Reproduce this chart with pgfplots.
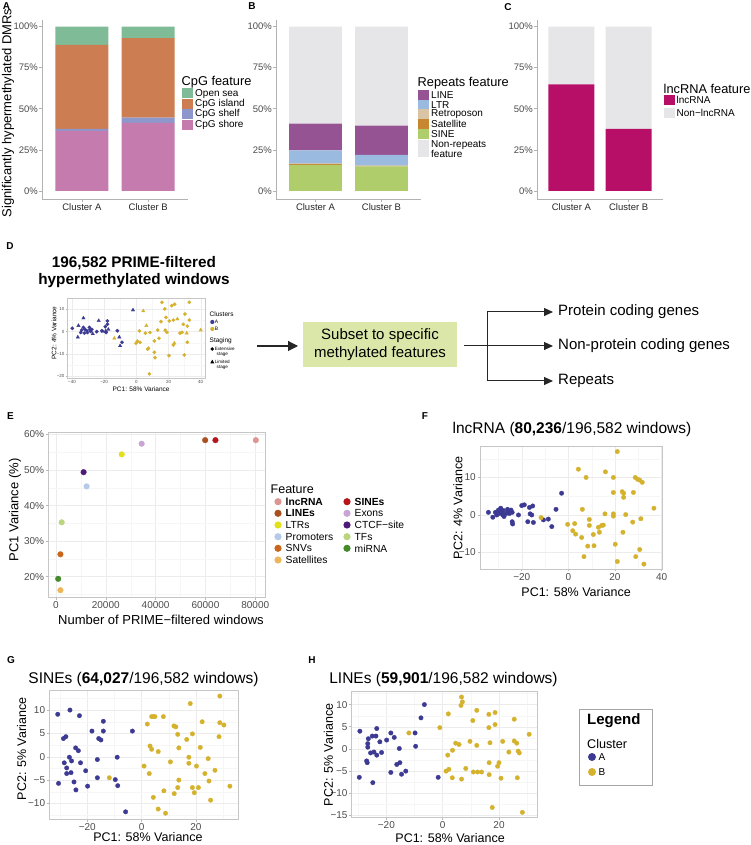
\documentclass[border=0pt]{standalone}
\usepackage{pgfplots}
\pgfplotsset{compat=1.18}
\usepackage{fontspec}
\setmainfont{Liberation Sans}
\usetikzlibrary{arrows.meta}
\newcommand{\fs}[1]{\fontsize{#1}{#1}\selectfont}
\definecolor{cOpen}{HTML}{7FBB96}
\definecolor{cIsland}{HTML}{CC7D52}
\definecolor{cShelf}{HTML}{8E97CB}
\definecolor{cShore}{HTML}{C67BAE}
\definecolor{cLINE}{HTML}{965394}
\definecolor{cLTR}{HTML}{9BBADF}
\definecolor{cRetro}{HTML}{D9C5A5}
\definecolor{cSat}{HTML}{C78630}
\definecolor{cSINE}{HTML}{B0CD6B}
\definecolor{cNon}{HTML}{E6E5E7}
\definecolor{cLnc}{HTML}{B70E68}
\definecolor{cA}{HTML}{3C3A92}
\definecolor{cB}{HTML}{D5B22E}
\definecolor{cBox}{HTML}{DBE7A8}
\definecolor{eLnc}{HTML}{DC958F}
\definecolor{eLINE}{HTML}{A8511E}
\definecolor{eLTR}{HTML}{E2E018}
\definecolor{eProm}{HTML}{B5CAE8}
\definecolor{eSNV}{HTML}{C7661C}
\definecolor{eSat}{HTML}{EBB75A}
\definecolor{eSINE}{HTML}{B4161B}
\definecolor{eExon}{HTML}{C8A5D4}
\definecolor{eCTCF}{HTML}{4E1A77}
\definecolor{eTF}{HTML}{BAD57C}
\definecolor{eMiR}{HTML}{458A2B}
\pgfplotsset{
  barax/.style={scale only axis, anchor=south west, height=179pt,
    axis x line=bottom, axis y line=left,
    axis line style={-, draw=gray!60, line width=0.6pt},
    ybar stacked, bar width=0.8, bar shift=0pt,
    xmin=0.4, xmax=2.6, ymin=-4.9, ymax=104,
    xtick={1,2}, xticklabels={Cluster A,Cluster B},
    ytick={0,25,50,75,100}, yticklabels={0\%,25\%,50\%,75\%,100\%},
    tick align=outside, major tick length=3pt,
    tick style={draw=gray!60, line width=0.6pt},
    yticklabel style={font=\fs{9.5}, text=black!70, inner sep=1pt},
    xticklabel style={font=\fs{9.5}, text=black!85, inner sep=1.5pt},
  },
  pcaax/.style={scale only axis, anchor=south west,
    axis line style={draw=gray!45, line width=0.6pt},
    grid=both, major grid style={draw=gray!15, line width=0.45pt},
    minor grid style={draw=gray!7, line width=0.3pt},
    tick align=outside, major tick length=2.5pt, minor tick length=0pt,
    tick style={draw=gray!55, line width=0.5pt}, tick pos=left,
    tick label style={font=\fs{10}, text=black!70, inner sep=1.5pt},
    label style={font=\fs{12.5}},
  },
  pt/.style={only marks, mark=*, mark size=#1, mark options={solid, line width=0.3pt}},
  ptA/.style={pt=2.25pt, color=cA},
  ptB/.style={pt=2.25pt, color=cB},
  ept/.style={pt=2.85pt, color=#1},
}
\begin{document}
\begin{tikzpicture}[x=1pt,y=1pt]
\useasboundingbox (0,0) rectangle (750,845);

% ---------------- Panel A ----------------
\begin{axis}[barax, at={(42pt,646pt)}, width=146pt,
  ylabel={Significantly hypermethylated DMRs},
  ylabel style={font=\fs{13}, at={(axis description cs:-0.233,0.48)}, anchor=center}]
\addplot[fill=cShore, draw=none] coordinates {(1,36.5) (2,41.4)};
\addplot[fill=cShelf, draw=none] coordinates {(1,1.3) (2,3.2)};
\addplot[fill=cIsland, draw=none] coordinates {(1,51.0) (2,48.3)};
\addplot[fill=cOpen, draw=none] coordinates {(1,11.2) (2,7.1)};
\end{axis}
% ---------------- Panel B ----------------
\begin{axis}[barax, at={(276pt,646pt)}, width=145pt]
\addplot[fill=cSINE, draw=none] coordinates {(1,15.9) (2,15.0)};
\addplot[fill=cSat, draw=none] coordinates {(1,0.6) (2,0.3)};
\addplot[fill=cRetro, draw=none] coordinates {(1,0.1) (2,0.1)};
\addplot[fill=cLTR, draw=none] coordinates {(1,8.0) (2,6.6)};
\addplot[fill=cLINE, draw=none] coordinates {(1,16.3) (2,17.7)};
\addplot[fill=cNon, draw=none] coordinates {(1,59.1) (2,60.3)};
\end{axis}
% ---------------- Panel C ----------------
\begin{axis}[barax, at={(537pt,646pt)}, width=126pt]
\addplot[fill=cLnc, draw=none] coordinates {(1,64.9) (2,37.7)};
\addplot[fill=cNon, draw=none] coordinates {(1,35.1) (2,62.3)};
\end{axis}

% legends A-C
\node[anchor=west, font=\fs{12.8}, inner sep=0] at (181.5,763) {CpG feature};
\fill[cOpen] (182,746.5) rectangle (193,756.5);
\fill[cIsland] (182,736) rectangle (193,746);
\fill[cShelf] (182,725.5) rectangle (193,735.5);
\fill[cShore] (182,715) rectangle (193,725);
\begin{scope}[every node/.style={anchor=west, font=\fs{10}, inner sep=0}]
\node at (195,751.3) {Open sea};
\node at (195,741.3) {CpG island};
\node at (195,730.7) {CpG shelf};
\node at (195,720) {CpG shore};
\end{scope}
\node[anchor=west, font=\fs{12.8}, inner sep=0] at (417.5,762) {Repeats feature};
\fill[cLINE] (418,745) rectangle (429,755);
\fill[cLTR] (418,735) rectangle (429,745);
\fill[cRetro] (418,725.5) rectangle (429,735.5);
\fill[cSat] (418,715.7) rectangle (429,725.7);
\fill[cSINE] (418,706) rectangle (429,716);
\fill[cNon] (418,688) rectangle (429,705);
\begin{scope}[every node/.style={anchor=west, font=\fs{10}, inner sep=0}]
\node at (431,750) {LINE};
\node at (431,740) {LTR};
\node at (431,730.5) {Retroposon};
\node at (431,720.7) {Satellite};
\node at (431,711) {SINE};
\node at (431,700) {Non{-}repeats};
\node at (431,691) {feature};
\end{scope}
\node[anchor=west, font=\fs{12.8}, inner sep=0] at (663.5,756) {lncRNA feature};
\fill[cLnc] (664,740) rectangle (675,750);
\fill[cNon] (664,727.3) rectangle (675,737.3);
\begin{scope}[every node/.style={anchor=west, font=\fs{10}, inner sep=0}]
\node at (676.5,745) {lncRNA};
\node at (676.5,732.3) {Non−lncRNA};
\end{scope}

% panel letters
\begin{scope}[every node/.style={font=\bfseries\fs{10}, inner sep=0}]
\node at (6.5,838.5) {A};
\node at (252,838.5) {B};
\node at (508,838) {C};
\node at (10,599) {D};
\node at (10.5,429) {E};
\node at (425,429) {F};
\node at (11,185) {G};
\node at (312,185) {H};
\end{scope}

% ---------------- Panel D ----------------
\node[font=\bfseries\fs{15.3}] at (134,582) {196,582 PRIME-filtered};
\node[font=\bfseries\fs{15.3}] at (134,564) {hypermethylated windows};
\begin{axis}[pcaax, at={(66.7pt,466.7pt)}, width=139pt, height=80pt,
  xmin=-43.3, xmax=43.1, ymin=-21, ymax=15,
  xtick={-40,-20,0,20,40}, xticklabels={−40,−20,0,20,40},
  minor xtick={-30,-10,10,30},
  ytick={-20,-10,0,10}, yticklabels={−20,−10,0,10},
  minor ytick={-15,-5,5},
  major tick length=1.2pt,
  tick label style={font=\fs{4.5}, inner sep=0.8pt},
  label style={font=\fs{6.5}},
  axis line style={line width=0.4pt}, major grid style={line width=0.3pt},
  xlabel={PC1: 58\% Variance}, ylabel={PC2: 4\% Variance},
  xlabel style={at={(axis description cs:0.535,-0.134)}, anchor=center},
  ylabel style={at={(axis description cs:-0.091,0.566)}, anchor=center}]
\addplot[pt=1.7pt, color=cA] table {
-39.8 1.5
-34.6 -0.4
-34.0 0.7
-32.9 1.9
-32.3 -0.7
-31.9 1.0
-30.8 0.4
-30.4 -0.4
-29.2 1.9
-28.8 1.0
-28.4 0.1
-27.7 1.0
-24.6 0
-21.5 0.4
-19.3 2.2
-18.0 4.8
-18.0 3.3
-18.8 -0.4
-11.8 0.4
-8.9 -4.8
};
\addplot[pt=2pt, color=cA, mark=triangle*] table {
-36.0 2.7
-36.4 -2.5
-32.9 6.1
-27.1 -1.0
-23.4 4.9
-20.9 0.1
-19.0 0.3
-17.4 1.0
-10.6 -2.5
-10.1 -6.4
-2.1 9.7
};
\addplot[pt=1.7pt, color=cB] table {
-0.2 -5.2
0.6 -4.3
1.9 0.3
2.3 -4.8
5.6 -0.7
7.0 -7.9
7.5 -7.5
8.5 -0.4
11.2 -4.2
11.2 -9.3
11.6 -11.7
8.1 -19.0
13.3 0.7
14.1 -3.0
15.9 13.2
15.3 4.5
17.7 10.2
17.9 0.7
19.0 -0.3
18.4 6.4
20.5 4.8
20.3 -10.8
22.0 11.7
23.0 5.2
23.8 12.3
23.0 -6.0
27.1 -0.7
28.4 -0.3
29.2 3.3
30.2 7.9
29.8 -10.5
31.7 2.5
31.7 -4.8
32.9 5.2
32.9 13.2
};
\addplot[pt=2pt, color=cB, mark=triangle*] table {
-13.7 -3.0
4.3 9.3
6.2 2.7
25.5 5.7
23.6 -5.2
31.3 -0.7
40.0 0.7
};
\end{axis}
% D legend
\node[anchor=west, font=\fs{6.5}, inner sep=0] at (209.5,531) {Clusters};
\fill[cA] (212.3,523) circle (2.1);
\fill[cB] (212.3,516) circle (2.1);
\node[anchor=west, font=\fs{5}, inner sep=0] at (214.6,523) {A};
\node[anchor=west, font=\fs{5}, inner sep=0] at (214.6,516) {B};
\node[anchor=west, font=\fs{6.5}, inner sep=0] at (209.5,504.3) {Staging};
\fill[black] (212.3,496) circle (1.9);
\fill[black] (210.3,481.7) -- (214.3,481.7) -- (212.3,485.3) -- cycle;
\begin{scope}[every node/.style={anchor=west, font=\fs{4.6}, inner sep=0}]
\node at (214.6,496.5) {Extensive};
\node at (216.5,490.3) {stage};
\node at (214.6,483.6) {Limited};
\node at (216.5,477.5) {stage};
\end{scope}
% D flow diagram
\draw[line width=1.1pt, black!85, -{Triangle[length=10pt,width=10pt]}] (257,499) -- (298,499);
\fill[cBox] (303,478) rectangle (457,523);
\node[font=\fs{15}] at (380,509) {Subset to specific};
\node[font=\fs{15}] at (380,491) {methylated features};
\draw[line width=1pt, black!85, -{Triangle[length=9pt,width=8pt]}] (464,499) -- (553,499);
\draw[line width=1pt, black!85] (487,533) -- (487,464);
\draw[line width=1pt, black!85, -{Triangle[length=9pt,width=8pt]}] (486.5,533) -- (553,533);
\draw[line width=1pt, black!85, -{Triangle[length=9pt,width=8pt]}] (486.5,464) -- (553,464);
\begin{scope}[every node/.style={anchor=west, font=\fs{15}, inner sep=0}]
\node at (558,533) {Protein coding genes};
\node at (558,499) {Non-protein coding genes};
\node at (558,464) {Repeats};
\end{scope}

% ---------------- Panel E ----------------
\begin{axis}[pcaax, at={(48.3pt,247.7pt)}, width=217.4pt, height=164.6pt,
  xmin=-3070, xmax=84200, ymin=14.2, ymax=60.5,
  scaled x ticks=false,
  xtick={0,20000,40000,60000,80000}, xticklabels={0,20000,40000,60000,80000},
  minor xtick={10000,30000,50000,70000},
  ytick={20,30,40,50,60}, yticklabels={20\%,30\%,40\%,50\%,60\%},
  minor ytick={15,25,35,45,55},
  label style={font=\fs{13}},
  xlabel={Number of PRIME−filtered windows}, ylabel={PC1 Variance (\%)},
  xlabel style={at={(axis description cs:0.518,-0.138)}, anchor=center},
  ylabel style={at={(axis description cs:-0.153,0.530)}, anchor=center}]
\addplot[ept=eLnc] coordinates {(80236,58.4)};
\addplot[ept=eSINE] coordinates {(64027,58.4)};
\addplot[ept=eLINE] coordinates {(59901,58.4)};
\addplot[ept=eExon] coordinates {(34400,57.4)};
\addplot[ept=eLTR] coordinates {(26400,54.4)};
\addplot[ept=eCTCF] coordinates {(11100,49.4)};
\addplot[ept=eProm] coordinates {(12300,45.4)};
\addplot[ept=eTF] coordinates {(2300,35.3)};
\addplot[ept=eSNV] coordinates {(1800,26.3)};
\addplot[ept=eMiR] coordinates {(900,19.4)};
\addplot[ept=eSat] coordinates {(1800,16.2)};
\end{axis}
% E legend
\node[anchor=west, font=\fs{12.5}, inner sep=0] at (270.5,356) {Feature};
\fill[eLnc] (278,343.3) circle (3.6);
\fill[eLINE] (278,331.7) circle (3.6);
\fill[eLTR] (278,320) circle (3.6);
\fill[eProm] (278,308.3) circle (3.6);
\fill[eSNV] (278,296.7) circle (3.6);
\fill[eSat] (278,285) circle (3.6);
\fill[eSINE] (347,343.3) circle (3.6);
\fill[eExon] (347,331.7) circle (3.6);
\fill[eCTCF] (347,320) circle (3.6);
\fill[eTF] (347,308.3) circle (3.6);
\fill[eMiR] (347,296.7) circle (3.6);
\begin{scope}[every node/.style={anchor=west, font=\fs{10.3}, inner sep=0}]
\node[font=\bfseries\fs{10.3}] at (285.5,343.3) {lncRNA};
\node[font=\bfseries\fs{10.3}] at (285.5,331.7) {LINEs};
\node at (285.5,320) {LTRs};
\node at (285.5,308.3) {Promoters};
\node at (285.5,296.7) {SNVs};
\node at (285.5,285) {Satellites};
\node[font=\bfseries\fs{10.3}] at (354.5,343.3) {SINEs};
\node at (354.5,331.7) {Exons};
\node at (354.5,320) {CTCF−site};
\node at (354.5,308.3) {TFs};
\node at (354.5,296.7) {miRNA};
\end{scope}

% ---------------- Panel F ----------------
\node[font=\fs{15.5}] at (572,416) {lncRNA (\textbf{80,236}/196,582 windows)};
\begin{axis}[pcaax, at={(480pt,276pt)}, width=182.3pt, height=122.3pt,
  xmin=-37.9, xmax=40.3, ymin=-14.4, ymax=18.2,
  xtick={-20,0,20,40}, xticklabels={−20,0,20,40}, minor xtick={-30,-10,10,30},
  ytick={-10,0,10}, yticklabels={−10,0,10}, minor ytick={-5,5,15},
  xlabel={PC1: 58\% Variance}, ylabel={PC2: 4\% Variance},
  xlabel style={at={(axis description cs:0.527,-0.188)}, anchor=center},
  ylabel style={at={(axis description cs:-0.121,0.499)}, anchor=center}]
\addplot[ptA] table {
-34.3 0.7
-32.4 -0.6
-31.3 0.7
-30.7 0
-30.0 1.3
-29.6 0.4
-29.0 1.8
-28.6 0.9
-28.1 0
-27.9 1.2
-27.6 -0.4
-26.7 0.4
-26.1 1.5
-25.7 0.9
-25.3 0.4
-24.6 1.3
-24.1 0.7
-24.1 -1.8
-23.9 -2.4
-21.4 0
-20.0 2.5
-18.9 2.7
-17.4 -1.8
-16.7 2.0
-16.4 0.3
-15.7 0
-15.3 2.4
-15.0 -2.0
-10.7 -1.3
-8.6 -1.1
-7.1 -3.1
-5.3 1.5
-2.9 5.8
};
\addplot[ptB] table {
-11.7 -0.7
-0.3 -2.5
2.7 -2.3
1.9 -4.2
3.1 -5.1
4.3 12.2
6.0 1.5
7.6 10.0
5.7 -6.0
6.7 -11.1
8.3 -8.3
9.0 -1.2
9.0 -2.8
10.7 -5.2
11.0 -8.2
12.9 -3.3
13.3 -4.6
14.3 -2.8
15.0 -2.7
15.7 0.3
15.9 11.5
19.3 10.0
19.3 6.0
19.3 0.3
19.3 -0.3
20.1 -7.8
21.0 -12.4
21.0 16.9
23.1 6.2
23.7 5.8
23.7 4.7
24.6 0.1
23.4 -4.6
27.6 -1.9
27.9 6.0
28.7 10.0
29.7 9.5
30.6 9.3
31.7 8.7
31.1 -1.0
30.6 -9.2
28.9 -11.1
32.4 -13.1
36.7 1.8
};
\end{axis}

% ---------------- Panel G ----------------
\node[font=\fs{15.5}] at (143.5,166) {SINEs (\textbf{64,027}/196,582 windows)};
\begin{axis}[pcaax, at={(49.3pt,25.7pt)}, width=189pt, height=129.3pt,
  xmin=-34.0, xmax=35.6, ymin=-13.4, ymax=14.3,
  xtick={-20,0,20}, xticklabels={−20,0,20}, minor xtick={-30,-10,10,30},
  ytick={-10,-5,0,5,10}, yticklabels={−10,−5,0,5,10}, minor ytick={-12.5,-7.5,-2.5,2.5,7.5,12.5},
  xlabel={PC1: 58\% Variance}, ylabel={PC2: 5\% Variance},
  xlabel style={at={(axis description cs:0.522,-0.140)}, anchor=center},
  ylabel style={at={(axis description cs:-0.146,0.544)}, anchor=center}]
\addplot[ptA] table {
-30.9 9.1
-30.6 -5.7
-28.8 3.9
-27.9 4.3
-28.5 -1.3
-27.6 -2.4
-27.6 -3.6
-26.4 10.0
-26.6 -0.1
-26.0 -3.4
-25.8 -0.9
-24.9 -5.4
-24.3 1.9
-24.2 -7.1
-23.3 1.3
-22.9 8.8
-22.5 -1.3
-20.6 -3.0
-19.9 -6.3
-18.3 5.5
-16.3 -0.6
-16.3 -4.5
-15.8 3.9
-15.0 3.6
-14.1 7.6
-14.1 5.5
-9.7 -4.9
-9.0 -0.1
-8.8 -6.2
-5.9 -11.8
-3.4 5.5
};
\addplot[ptB] table {
-11.9 -4.5
0.9 -2.0
2.1 7.0
2.8 -3.6
3.1 2.3
3.7 1.6
3.7 8.6
4.3 8.6
4.9 8.6
4.3 -8.7
6.1 -11.2
6.1 1.1
8.0 8.6
8.2 -7.3
8.8 -12.1
10.6 -1.1
11.9 6.6
12.6 6.4
12.0 -7.9
13.3 4.8
13.3 -6.6
13.7 1.9
13.7 -5.0
16.6 3.7
17.4 -0.1
17.4 -1.4
17.9 11.4
18.7 4.9
18.7 -6.6
19.4 -7.7
20.2 -2.0
20.9 -6.6
21.6 2.0
22.3 7.5
23.3 -3.6
24.5 -0.4
24.8 -5.2
25.4 -9.3
27.0 -2.9
28.5 4.3
28.8 13.0
28.8 7.3
30.3 6.8
32.5 -6.3
};
\end{axis}

% ---------------- Panel H ----------------
\node[font=\fs{15.5}] at (443.5,166) {LINEs (\textbf{59,901}/196,582 windows)};
\begin{axis}[pcaax, at={(351.7pt,27.3pt)}, width=185.6pt, height=126pt,
  xmin=-32.3, xmax=33.6, ymin=-15.5, ymax=12.9,
  xtick={-20,0,20}, xticklabels={−20,0,20}, minor xtick={-30,-10,10,30},
  ytick={-15,-10,-5,0,5,10}, yticklabels={−15,−10,−5,0,5,10}, minor ytick={-12.5,-7.5,-2.5,2.5,7.5,12.5},
  xlabel={PC1: 58\% Variance}, ylabel={PC2: 5\% Variance},
  xlabel style={at={(axis description cs:0.53,-0.161)}, anchor=center},
  ylabel style={at={(axis description cs:-0.126,0.498)}, anchor=center}]
\addplot[ptA] table {
-29.4 4.0
-26.4 2.3
-26.6 1.2
-26.6 0.4
-25.0 2.9
-25.6 -0.9
-24.4 -0.7
-27.0 -2.7
-26.8 -3.1
-29.6 -6.4
-24.8 -7.6
-23.4 4.6
-23.7 2.9
-22.3 1.6
-19.9 2.0
-23.4 -1.4
-21.7 -0.8
-18.4 3.6
-17.2 2.6
-15.4 0.1
-16.3 -3.5
-15.2 -3.1
-18.4 -5.3
-14.6 -5.7
-13.1 -5.0
-9.8 3.6
-9.6 0.6
-7.7 7.0
-6.5 10.0
-1.6 -6.4
};
\addplot[ptB] table {
-12.0 3.6
-1.0 4.8
2.0 7.9
1.8 -1.4
2.2 -4.6
1.2 -5.0
3.4 -6.5
3.5 -0.3
4.6 1.3
5.8 1.0
6.7 11.7
7.0 10.6
6.5 9.8
6.7 -6.8
8.2 -4.4
9.7 1.7
10.7 6.4
10.9 -5.2
12.1 0.8
12.1 8.7
12.4 -5.2
13.8 -5.2
16.4 7.8
16.4 4.8
16.8 1.4
16.5 -3.1
16.5 -5.8
17.6 -13.2
18.6 8.2
18.6 5.5
19.5 -3.9
20.0 -3.1
20.7 -6.6
21.3 1.7
23.5 -0.7
25.4 6.7
25.4 1.8
26.3 1.3
26.5 -6.5
26.8 -0.5
27.2 -0.9
28.3 -14.3
30.7 3.3
};
\end{axis}
% H legend box
\draw[gray!70, line width=0.8pt] (579,60) rectangle (652,136);
\node[anchor=west, font=\bfseries\fs{15}, inner sep=0] at (587,124) {Legend};
\node[anchor=west, font=\fs{12.6}, inner sep=0] at (587,101) {Cluster};
\fill[cA] (592,88) circle (4);
\fill[cB] (592,73) circle (4);
\node[anchor=west, font=\fs{10}, inner sep=0] at (598.5,88) {A};
\node[anchor=west, font=\fs{10}, inner sep=0] at (598.5,73) {B};
\end{tikzpicture}
\end{document}
